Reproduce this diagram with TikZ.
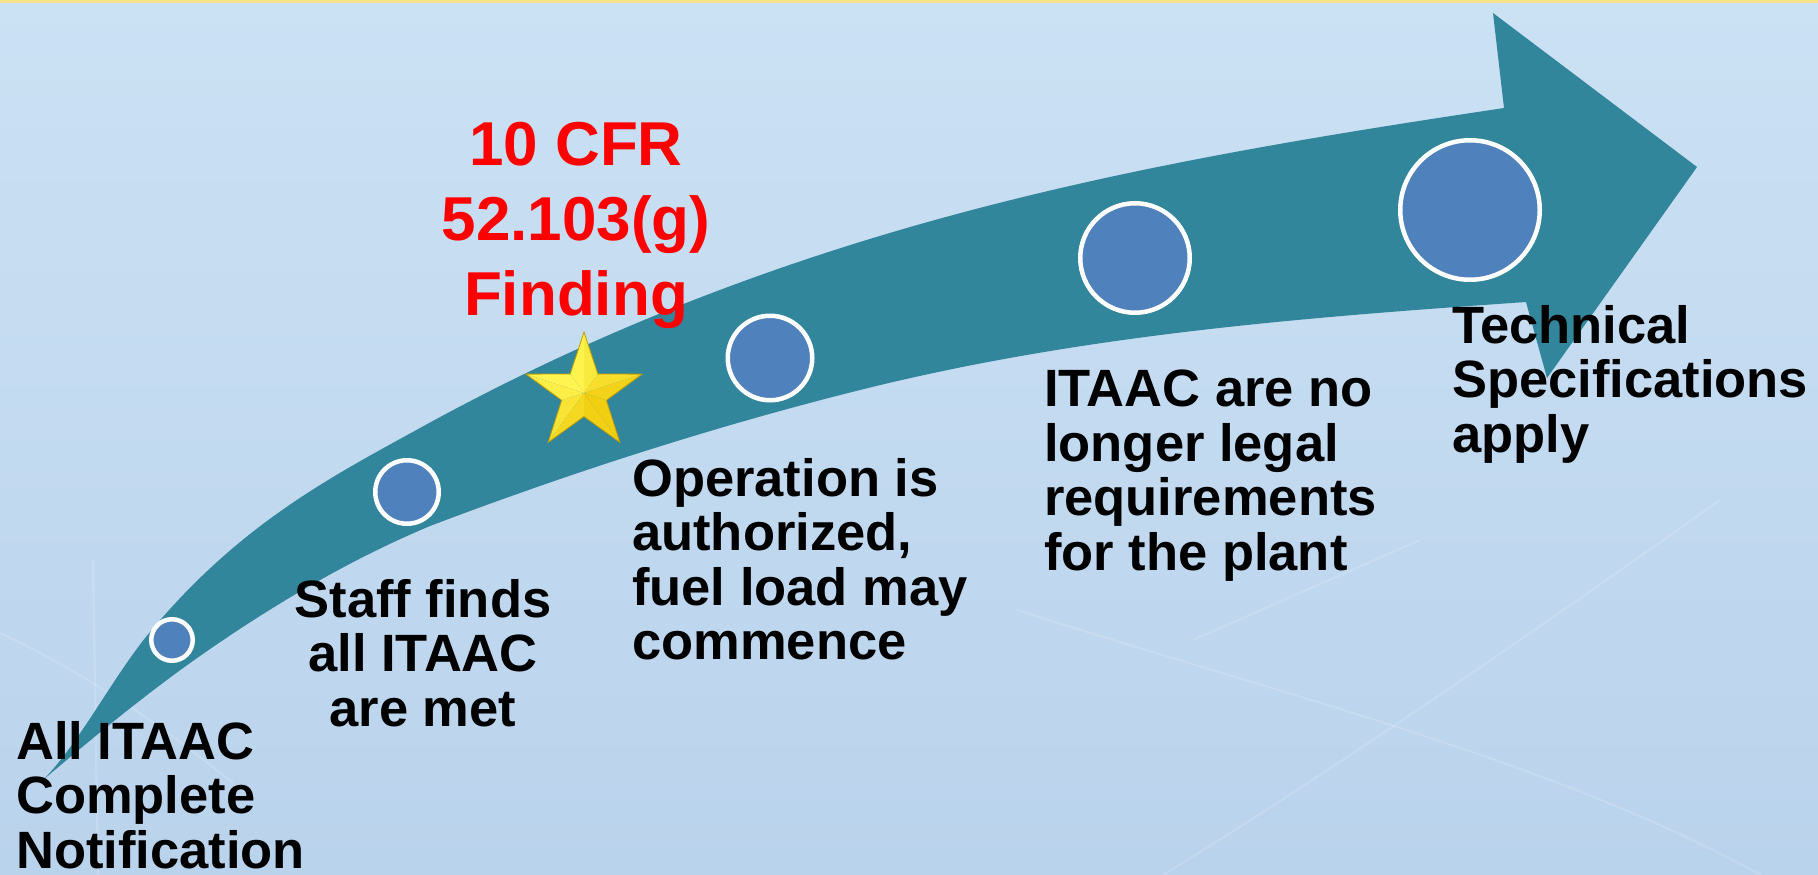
\documentclass[tikz,border=0pt]{standalone}
\usepackage{fontspec}
\setmainfont{Liberation Sans}
\definecolor{bgtop}{HTML}{CBE1F4}
\definecolor{bgbot}{HTML}{BAD3EC}
\definecolor{arrowteal}{HTML}{31869B}
\definecolor{dotblue}{HTML}{4F81BD}
\definecolor{topline}{HTML}{F8E38C}
\definecolor{starlight}{HTML}{FFF450}
\definecolor{stardark}{HTML}{EEC400}
\definecolor{staredge}{HTML}{C29E00}
\begin{document}
\begin{tikzpicture}[x=1pt,y=-1pt,
  dot/.style={circle, fill=dotblue, draw=white, line width=4.5pt, inner sep=0pt},
  lbl/.style={font=\fontsize{52.5}{54.5}\selectfont\bfseries, inner sep=0pt, text=black},
  redlbl/.style={font=\fontsize{62}{75}\selectfont\bfseries, inner sep=0pt, text=red, align=center},
  faint/.style={draw=white, opacity=0.15, line width=2pt}]
\path[use as bounding box] (0,0) rectangle (1818,875);
\shade[top color=bgtop, bottom color=bgbot] (0,0) rectangle (1818,875);
\fill[topline] (0,0) rectangle (1818,3);
% faint background line art
\draw[faint] (1017,610) .. controls (1300,700) and (1550,760) .. (1761,875);
\draw[faint] (1163,875) .. controls (1350,760) and (1550,620) .. (1720,500);
\draw[faint] (1193,640) -- (1420,540);
\draw[faint] (0,633) .. controls (100,680) and (180,740) .. (233,783);
\draw[faint] (93,560) -- (98,875);
% arrow
\fill[arrowteal] (43,780)
  .. controls (79,744) and (114,675) .. (150,632)
  .. controls (240,524) and (330,477.5) .. (420,428)
  .. controls (567,347) and (713,287.6) .. (860,242)
  .. controls (1075,175.4) and (1289,140.25) .. (1504,108)
  -- (1493,13) -- (1697,167) -- (1547,378) -- (1526,302)
  .. controls (1304,317.5) and (1082,334.5) .. (860,390)
  .. controls (717,425.75) and (573,471.7) .. (430,526)
  .. controls (353,558.3) and (277,602.1) .. (200,656)
  .. controls (148,692.4) and (95,735.8) .. (43,780) -- cycle;
% milestones
\node[dot, minimum size=41.5pt] (c1) at (172,640) {};
\node[dot, minimum size=63.5pt] (c2) at (407,492) {};
\node[dot, minimum size=84.5pt] (c3) at (770,358) {};
\node[dot, minimum size=109.5pt] (c4) at (1135,258) {};
\node[dot, minimum size=139.5pt] (c5) at (1470,210) {};
% star
\coordinate (sc) at (584,393);
\begin{scope}[shift={(sc)}]
  \foreach \k in {0,...,4} {
    \pgfmathsetmacro\a{270+72*\k}
    \pgfmathsetmacro\bl{max(0,min(100,60+40*cos(\a+18-225)))}
    \pgfmathsetmacro\br{max(0,min(100,60+40*cos(\a-18-225)))}
    \fill[starlight!\bl!stardark] (0,0) -- (\a:61) -- (\a+36:23.5) -- cycle;
    \fill[starlight!\br!stardark] (0,0) -- (\a:61) -- (\a-36:23.5) -- cycle;
  }
  \draw[staredge, line width=0.8pt, line join=miter] (270:61) -- (306:23.5) -- (342:61) -- (18:23.5) -- (54:61) -- (90:23.5) -- (126:61) -- (162:23.5) -- (198:61) -- (234:23.5) -- cycle;
\end{scope}
% texts
\node[redlbl, anchor=north] (t6) at (576,122) {10 CFR\\52.103(g)\\Finding};
\node[lbl, align=left, anchor=north west] (t1) at (16,721) {All ITAAC\\Complete\\Notification};
\node[lbl, align=center, anchor=north] (t2) at (423,579) {Staff finds\\all ITAAC\\are met};
\node[lbl, align=left, anchor=north west] (t3) at (632,458) {Operation is\\authorized,\\fuel load may\\commence};
\node[lbl, align=left, anchor=north west] (t4) at (1044,370) {ITAAC are no\\longer legal\\requirements\\for the plant};
\node[lbl, align=left, anchor=north west] (t5) at (1452,305) {Technical\\Specifications\\apply};
\end{tikzpicture}
\end{document}
